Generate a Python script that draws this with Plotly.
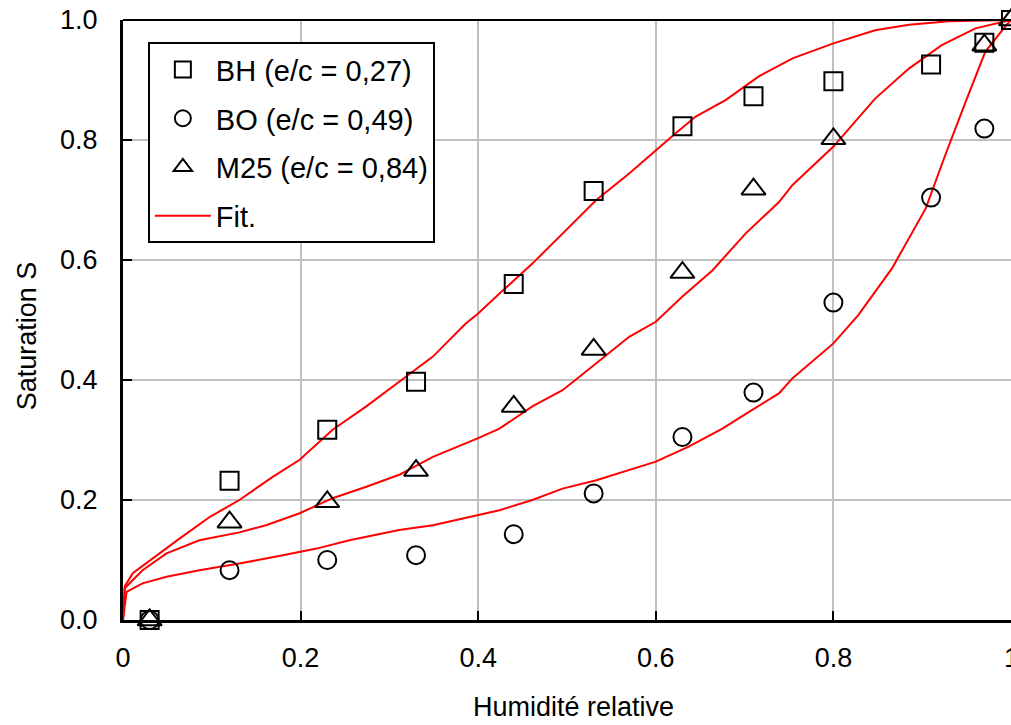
import plotly.graph_objects as go

# Measured points
hr_pts = [0.03, 0.12, 0.23, 0.33, 0.44, 0.53, 0.63, 0.71, 0.80, 0.91, 0.97, 1.0]
bh_s = [0.0, 0.232, 0.317, 0.397, 0.560, 0.715, 0.823, 0.873, 0.898, 0.926, 0.962, 1.0]

bo_hr = [0.03, 0.12, 0.23, 0.33, 0.44, 0.53, 0.63, 0.71, 0.80, 0.91, 0.97]
bo_s = [0.0, 0.083, 0.100, 0.108, 0.143, 0.211, 0.305, 0.379, 0.529, 0.704, 0.819]

m25_hr = [0.03, 0.12, 0.23, 0.33, 0.44, 0.53, 0.63, 0.71, 0.80, 0.97, 1.0]
m25_s = [0.0, 0.163, 0.197, 0.249, 0.356, 0.451, 0.579, 0.718, 0.802, 0.958, 1.0]

# Fit curves
fit_bh_x = [0, 0.002, 0.011, 0.038, 0.064, 0.098, 0.131, 0.169, 0.199, 0.236, 0.274, 0.311,
            0.349, 0.386, 0.400, 0.424, 0.461, 0.495, 0.533, 0.570, 0.600, 0.622, 0.645,
            0.679, 0.716, 0.754, 0.800, 0.847, 0.885, 0.930, 1.0]
fit_bh_y = [0, 0.056, 0.078, 0.108, 0.136, 0.172, 0.200, 0.239, 0.267, 0.317, 0.356, 0.397,
            0.439, 0.494, 0.511, 0.544, 0.594, 0.644, 0.700, 0.744, 0.783, 0.811, 0.839,
            0.867, 0.906, 0.936, 0.961, 0.983, 0.992, 0.998, 1.0]

fit_m25_x = [0, 0.002, 0.022, 0.049, 0.086, 0.131, 0.161, 0.199, 0.236, 0.274, 0.311, 0.349,
             0.400, 0.424, 0.461, 0.495, 0.533, 0.570, 0.600, 0.630, 0.664, 0.701, 0.739,
             0.754, 0.800, 0.847, 0.885, 0.922, 0.960, 1.0]
fit_m25_y = [0, 0.053, 0.083, 0.111, 0.133, 0.146, 0.158, 0.178, 0.203, 0.222, 0.242, 0.272,
             0.303, 0.319, 0.356, 0.383, 0.428, 0.472, 0.497, 0.539, 0.583, 0.644, 0.697,
             0.725, 0.789, 0.869, 0.919, 0.958, 0.986, 1.0]

fit_bo_x = [0, 0.004, 0.022, 0.049, 0.086, 0.131, 0.180, 0.218, 0.255, 0.274, 0.311, 0.349,
            0.400, 0.424, 0.461, 0.495, 0.533, 0.570, 0.600, 0.637, 0.675, 0.705, 0.739,
            0.754, 0.800, 0.828, 0.866, 0.904, 0.926, 0.949, 0.971, 0.994, 1.0]
fit_bo_y = [0, 0.047, 0.061, 0.072, 0.083, 0.094, 0.108, 0.119, 0.133, 0.139, 0.150, 0.158,
            0.175, 0.183, 0.200, 0.219, 0.233, 0.250, 0.264, 0.289, 0.319, 0.347, 0.378,
            0.403, 0.461, 0.508, 0.586, 0.686, 0.775, 0.864, 0.947, 0.990, 1.0]

x_ticks = [0, 0.2, 0.4, 0.6, 0.8, 1.0]
x_tick_text = ["0", "0.2", "0.4", "0.6", "0.8", "1"]
y_ticks = [0, 0.2, 0.4, 0.6, 0.8, 1.0]
y_tick_text = ["0.0", "0.2", "0.4", "0.6", "0.8", "1.0"]

FONT = "Liberation Sans, Arial, sans-serif"
RED = "#FF0000"

fig = go.Figure()

for i, (fx, fy) in enumerate([(fit_bh_x, fit_bh_y), (fit_m25_x, fit_m25_y), (fit_bo_x, fit_bo_y)]):
    fig.add_trace(go.Scatter(
        x=fx, y=fy, mode="lines", name="Fit.",
        line=dict(color=RED, width=2),
        showlegend=(i == 0), legendgroup="fit", legendrank=4,
        cliponaxis=False,
    ))

fig.add_trace(go.Scatter(
    x=hr_pts, y=bh_s, mode="markers", name="BH (e/c = 0,27)",
    marker=dict(symbol="square-open", size=18, color="black", line=dict(width=2, color="black")),
    legendgroup="bh", legendrank=1, cliponaxis=False,
))
fig.add_trace(go.Scatter(
    x=bo_hr, y=bo_s, mode="markers", name="BO (e/c = 0,49)",
    marker=dict(symbol="circle-open", size=18, color="black", line=dict(width=2, color="black")),
    legendgroup="bo", legendrank=2, cliponaxis=False,
))
fig.add_trace(go.Scatter(
    x=m25_hr, y=m25_s, mode="markers", name="M25 (e/c = 0,84)",
    marker=dict(symbol="triangle-up-open", size=21, color="black", line=dict(width=2, color="black")),
    legendgroup="m25", legendrank=3, cliponaxis=False,
))

fig.update_layout(
    width=1011, height=725,
    margin=dict(l=123, r=0, t=20, b=105),
    paper_bgcolor="white", plot_bgcolor="white",
    font=dict(family=FONT, size=27, color="black"),
    showlegend=True,
    legend=dict(
        x=0.028, y=0.963, xanchor="left", yanchor="top",
        bgcolor="white", bordercolor="black", borderwidth=2,
        font=dict(family=FONT, size=29, color="black"),
        itemwidth=56, tracegroupgap=8,
    ),
    xaxis=dict(
        range=[0, 1], tickvals=x_ticks, ticktext=x_tick_text,
        showgrid=True, gridcolor="#C0C0C0", gridwidth=2,
        showline=True, linecolor="black", linewidth=3,
        ticks="inside", ticklen=9, tickwidth=2, tickcolor="black",
        zeroline=False, ticklabelstandoff=12,
        tickfont=dict(family=FONT, size=27, color="black"),
    ),
    yaxis=dict(
        range=[0, 1], tickvals=y_ticks, ticktext=y_tick_text,
        showgrid=True, gridcolor="#C0C0C0", gridwidth=2,
        showline=True, linecolor="black", linewidth=3,
        ticks="inside", ticklen=9, tickwidth=2, tickcolor="black",
        zeroline=False, ticklabelstandoff=17,
        tickfont=dict(family=FONT, size=27, color="black"),
    ),
    shapes=[dict(type="line", xref="paper", yref="paper", x0=0, x1=1, y0=1, y1=1,
                 line=dict(color="black", width=2))],
    annotations=[
        dict(text="Humidité relative", xref="paper", yref="paper", x=0.507, y=-0.145,
             xanchor="center", yanchor="middle", showarrow=False,
             font=dict(family=FONT, size=27, color="black")),
        dict(text="Saturation S", xref="paper", yref="paper", x=-0.108, y=0.473,
             xanchor="center", yanchor="middle", textangle=-90, showarrow=False,
             font=dict(family=FONT, size=27, color="black")),
        dict(text=x_tick_text[-1], xref="x", yref="paper", x=x_ticks[-1], y=-0.063,
             xanchor="center", yanchor="middle", showarrow=False,
             font=dict(family=FONT, size=27, color="black")),
    ],
)

fig.write_html("out.html")
